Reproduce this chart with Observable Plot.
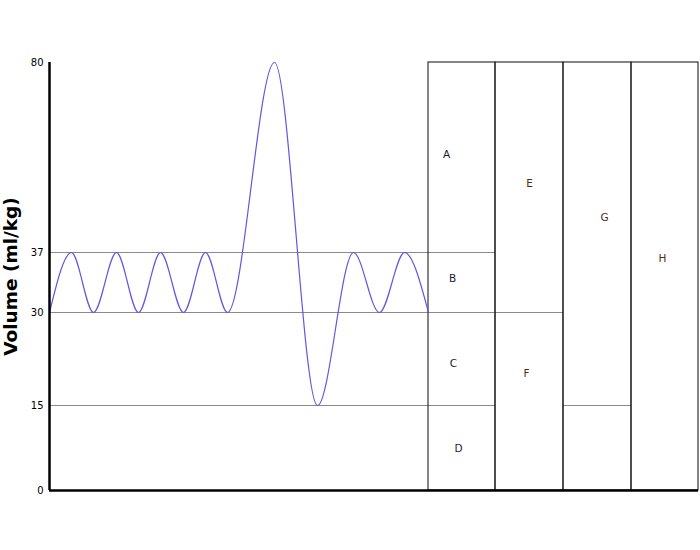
<!DOCTYPE html>
<html>
<head>
<meta charset="utf-8">
<script src="https://cdn.jsdelivr.net/npm/d3@7"></script>
<script src="https://cdn.jsdelivr.net/npm/@observablehq/plot@0.6"></script>
<style>
  body { margin: 0; background: #fff; }
  #chart svg { font-family: "DejaVu Sans", sans-serif; }
  #chart g[aria-label="y-axis tick label"] text { font-size: 10px; }
  #chart g[aria-label="y-axis label"] text { font-size: 18.5px; font-weight: bold; fill: #000; }
</style>
</head>
<body>
<div id="chart"></div>
<script>
// Y tick values (schematic, non-linear spacing in the original)
const yTicks = [0, 15, 30, 37, 80];
// drawn height (in plot units) at which each tick value sits
const yDrawn = [0, 85, 178, 238, 428];

// Spirometry trace: time (arbitrary units) and volume (ml/kg) at extrema
const traceT = [0, 22, 44, 67, 89, 111, 134, 156, 178, 225, 268, 304, 330, 355, 379];
const traceV = [30, 37, 30, 37, 30, 37, 30, 37, 30, 80, 15, 37, 30, 37, 30];

// Column boundaries (time units) for the volume/capacity boxes
const colEdges = [379, 446, 514, 582, 649];

// Horizontal divider lines: level, from, to
const lineY = [37, 30, 15, 15];
const lineX1 = [0, 0, 0, 514];
const lineX2 = [446, 514, 446, 582];

// Box labels
const labelsL = ["A", "B", "C", "D"];
const labelLT = [397, 403, 404, 409];
const labelLV = [59.2, 34, 21.8, 7.4];
const labelsR = ["E", "F", "G", "H"];
const labelRT = [480, 477, 555, 613];
const labelRV = [52.6, 20.2, 44.9, 36.3];

const warp = d3.scaleLinear().domain(yTicks).range(yDrawn);

const trace = traceT.map((t, i) => ({t, v: traceV[i]}));
const cols = colEdges.slice(0, -1).map((x1, i) => ({x1, x2: colEdges[i + 1], y1: 0, y2: 80}));
const hlines = lineY.map((y, i) => ({y, x1: lineX1[i], x2: lineX2[i]}));
const labL = labelsL.map((s, i) => ({s, t: labelLT[i], v: labelLV[i]}));
const labR = labelsR.map((s, i) => ({s, t: labelRT[i], v: labelRV[i]}));

const chart = Plot.plot({
  width: 700,
  height: 550,
  marginLeft: 49,
  marginRight: 2,
  marginTop: 62,
  marginBottom: 60,
  x: {domain: [0, 649], axis: null},
  y: {domain: [0, 428], transform: warp},
  marks: [
    Plot.axisY({
      ticks: yTicks.map(warp),
      tickFormat: (d) => String(yTicks[yDrawn.indexOf(d)]),
      tickSize: 0,
      tickPadding: 6,
      label: "Volume (ml/kg)",
      labelAnchor: "center",
      labelArrow: "none",
      labelOffset: 46,
      stroke: "none"
    }),
    Plot.ruleY(hlines, {y: "y", x1: "x1", x2: "x2", stroke: "#8a8a8a", strokeWidth: 1}),
    Plot.rect(cols, {x1: "x1", x2: "x2", y1: "y1", y2: "y2", fill: "none", stroke: "#222", strokeWidth: 1.1}),
    Plot.line(trace, {x: "t", y: "v", curve: "monotone-x", stroke: "#6655e0", strokeWidth: 1.2}),
    Plot.text(labL, {x: "t", y: "v", text: "s", fill: "#1a1a33", fontSize: 10.5}),
    Plot.text(labR, {x: "t", y: "v", text: "s", fill: "#4a3010", fontSize: 10.5}),
    Plot.ruleX([0], {y1: 0, y2: 80, stroke: "#000", strokeWidth: 2.5}),
    Plot.ruleY([0], {x1: 0, x2: 649, stroke: "#000", strokeWidth: 2.5})
  ]
});
document.getElementById("chart").appendChild(chart);
</script>
</body>
</html>
